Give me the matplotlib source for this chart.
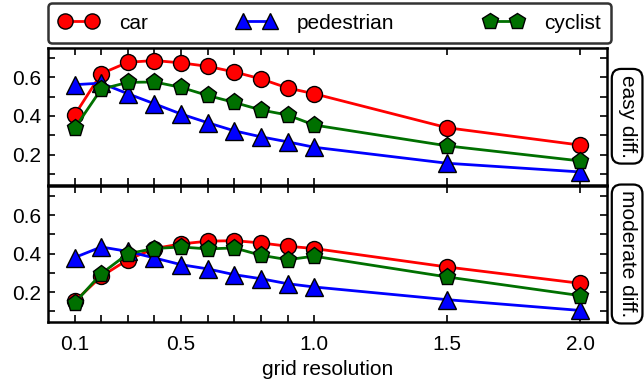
import matplotlib
matplotlib.use("Agg")
import matplotlib.pyplot as plt
from matplotlib.ticker import FixedLocator

plt.rcParams['font.family'] = ['Liberation Sans', 'DejaVu Sans']

grid = [0.1, 0.2, 0.3, 0.4, 0.5, 0.6, 0.7, 0.8, 0.9, 1.0, 1.5, 2.0]
xtick_labels = {0.1: "0.1", 0.5: "0.5", 1.0: "1.0", 1.5: "1.5", 2.0: "2.0"}

easy_car = [0.405, 0.619, 0.678, 0.687, 0.675, 0.657, 0.628, 0.592, 0.545, 0.515, 0.339, 0.249]
easy_ped = [0.562, 0.570, 0.515, 0.463, 0.410, 0.365, 0.323, 0.292, 0.266, 0.238, 0.155, 0.110]
easy_cyc = [0.336, 0.539, 0.574, 0.576, 0.548, 0.506, 0.470, 0.431, 0.405, 0.353, 0.245, 0.167]

mod_car = [0.152, 0.282, 0.369, 0.427, 0.451, 0.465, 0.468, 0.456, 0.439, 0.427, 0.331, 0.246]
mod_ped = [0.380, 0.435, 0.412, 0.378, 0.343, 0.321, 0.291, 0.270, 0.244, 0.227, 0.161, 0.105]
mod_cyc = [0.144, 0.296, 0.400, 0.427, 0.435, 0.425, 0.430, 0.392, 0.369, 0.387, 0.279, 0.182]

panels = ["easy diff.", "moderate diff."]
series_names = ["car", "pedestrian", "cyclist"]
colors = ["#ff0000", "#0000ff", "#007000"]
markers = ["o", "^", "p"]
msizes = [11.5, 12.5, 12.5]

FS = 15

fig = plt.figure(figsize=(6.44, 3.82), dpi=100)
W, H = 644, 382
left, right = 48, 607
ax_top = fig.add_axes([left / W, (H - 184.5) / H, (right - left) / W, (184.5 - 48) / H])
ax_bot = fig.add_axes([left / W, (H - 322) / H, (right - left) / W, (322 - 186) / H])

data = [[easy_car, easy_ped, easy_cyc], [mod_car, mod_ped, mod_cyc]]
handles = []
for ax, pdata, pname in zip([ax_top, ax_bot], data, panels):
    for vals, name, c, m, ms in zip(pdata, series_names, colors, markers, msizes):
        h, = ax.plot(grid, vals, color=c, lw=2.0, marker=m, markersize=ms,
                     markerfacecolor=c, markeredgecolor="black", markeredgewidth=1.0,
                     label=name)
        if ax is ax_top:
            handles.append(h)
    ax.set_xlim(0.0, 2.1)
    ax.set_ylim(0.045, 0.752)
    ax.xaxis.set_major_locator(FixedLocator(grid))
    ax.yaxis.set_major_locator(FixedLocator([0.1, 0.2, 0.3, 0.4, 0.5, 0.6, 0.7]))
    ax.set_yticklabels(["", "0.2", "", "0.4", "", "0.6", ""])
    ax.tick_params(axis="both", direction="in", top=True, right=True, length=5,
                   width=1.2, labelsize=FS)
    ax.tick_params(axis="y", pad=5)
    ax.tick_params(axis="x", pad=9)
    for s in ax.spines.values():
        s.set_linewidth(1.8)
    ax.text(1.036, 0.5, pname, transform=ax.transAxes, rotation=-90,
            ha="center", va="center", fontsize=FS,
            bbox=dict(boxstyle="round,pad=0.28,rounding_size=0.45", fc="white",
                      ec="black", lw=1.6))

ax_top.set_xticklabels([])
ax_bot.set_xticklabels([xtick_labels.get(g, "") for g in grid])
ax_bot.set_xlabel("grid resolution", fontsize=FS, labelpad=5)

leg = fig.legend(handles=handles, labels=series_names, loc="lower left",
                 bbox_to_anchor=(48 / W, (H - 43) / H, (611 - 48) / W, 38 / H),
                 mode="expand", ncol=3, numpoints=2, fontsize=FS, frameon=True,
                 fancybox=True, borderaxespad=0, handlelength=1.9, handletextpad=1.0,
                 borderpad=0.5, markerscale=0.95)
leg.get_frame().set_edgecolor("black")
leg.get_frame().set_linewidth(1.8)

fig.savefig("out.png", dpi=100)
